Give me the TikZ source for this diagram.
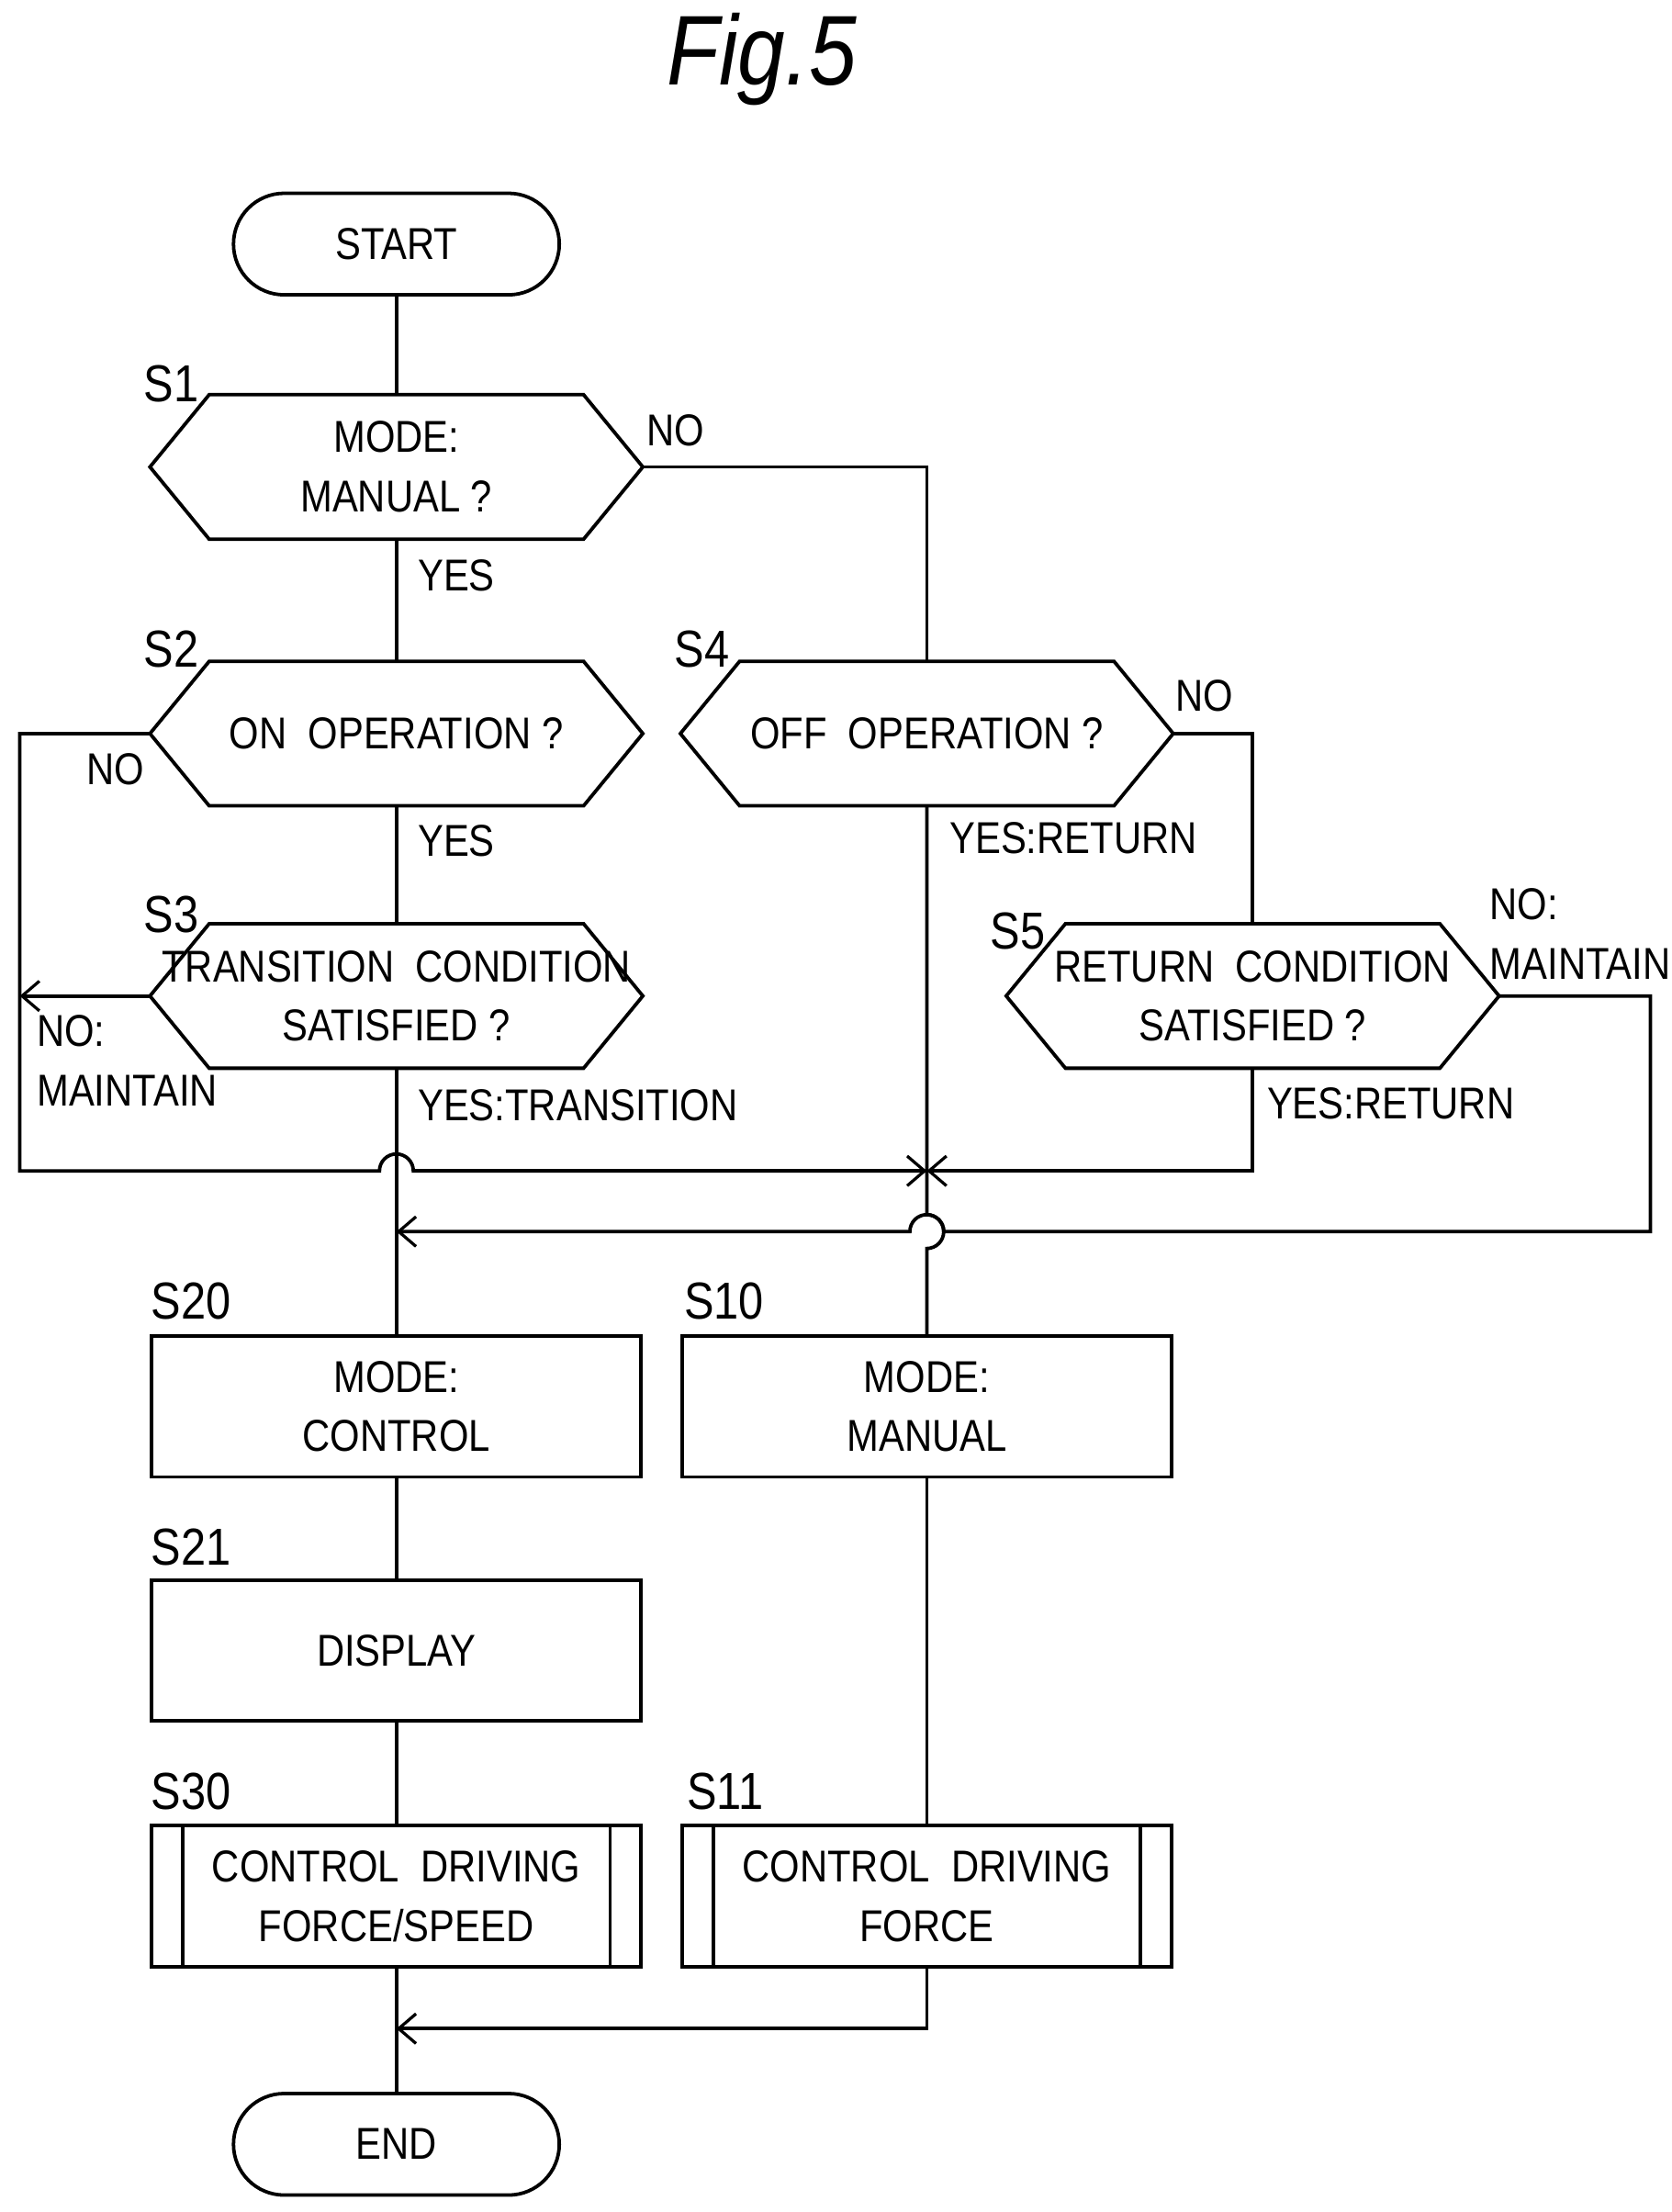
\documentclass[tikz,border=0pt]{standalone}
\usepackage{fontspec}
\setmainfont{Liberation Sans}[FakeStretch=0.86]
\usetikzlibrary{arrows.meta, positioning}

\begin{document}
\begin{tikzpicture}[
    x=0.02cm, y=-0.02cm,
    font=\fontsize{18}{24}\selectfont,
    line width=1.4pt,
    >={Straight Barb[length=7pt, width=12pt, line width=1.2pt]},
    every node/.style={align=center},
    term/.style={rectangle, draw, rounded corners=0.72cm, minimum width=4.62cm, minimum height=1.44cm},
    dec/.style={rectangle, minimum width=6.94cm, minimum height=2cm, inner sep=0pt,
        append after command={\pgfextra{\draw (\tikzlastnode.west)
            -- ([xshift=0.84cm]\tikzlastnode.north west) -- ([xshift=-0.84cm]\tikzlastnode.north east)
            -- (\tikzlastnode.east) -- ([xshift=-0.84cm]\tikzlastnode.south east)
            -- ([xshift=0.84cm]\tikzlastnode.south west) -- cycle;}}},
    proc/.style={rectangle, draw, minimum width=6.94cm, minimum height=2cm},
    sub/.style={proc, path picture={
        \draw ([xshift=0.44cm]path picture bounding box.north west) -- ([xshift=0.44cm]path picture bounding box.south west);
        \draw ([xshift=-0.44cm]path picture bounding box.north east) -- ([xshift=-0.44cm]path picture bounding box.south east);}},
    stepno/.style={font=\fontsize{21}{26}\selectfont, anchor=west},
    lbl/.style={anchor=west, inner sep=0pt, align=left}
]
\useasboundingbox (0,0) rectangle (1185,1568);

% Title
\node[font=\fontsize{40}{46}\selectfont\itshape] (title) at (540,42) {Fig.5};

% ----------------------
% Nodes
% ----------------------
\node[term] (start) at (281,173) {START};
\node[dec] (s1) at (281,331) {MODE:\\MANUAL ?};
\node[dec] (s2) at (281,520) {ON\ \ OPERATION ?};
\node[dec] (s4) at (657,520) {OFF\ \ OPERATION ?};
\node[dec] (s3) at (281,706) {TRANSITION\ \ CONDITION\\SATISFIED ?};
\node[dec] (s5) at (888,706) {RETURN\ \ CONDITION\\SATISFIED ?};
\node[proc] (s20) at (281,997) {MODE:\\CONTROL};
\node[proc] (s10) at (657,997) {MODE:\\MANUAL};
\node[proc] (s21) at (281,1170) {DISPLAY};
\node[sub] (s30) at (281,1344) {CONTROL\ \ DRIVING\\FORCE/SPEED};
\node[sub] (s11) at (657,1344) {CONTROL\ \ DRIVING\\FORCE};
\node[term] (end) at (281,1520) {END};

% step labels
\node[stepno] at (95,272) {S1};
\node[stepno] at (95,460) {S2};
\node[stepno] at (95,648) {S3};
\node[stepno] at (471,460) {S4};
\node[stepno] at (695,660) {S5};
\node[stepno] at (100,922) {S20};
\node[stepno] at (478,922) {S10};
\node[stepno] at (100,1097) {S21};
\node[stepno] at (100,1270) {S30};
\node[stepno] at (480,1270) {S11};

% junctions
\coordinate (j1) at (657,830);
\coordinate (j2) at (281,873);
\coordinate (j3) at (281,1438);

% ----------------------
% Arrows
% ----------------------
\draw (start) -- (s1);
\draw (s1) -- node[lbl, pos=0.3, right=8pt] {YES} (s2);
\draw (s1.east) -| (s4.north);
\node[lbl] at (457,305) {NO};
\draw (s2) -- node[lbl, pos=0.3, right=8pt] {YES} (s3);
\draw (s2.west) -- (14,520) -- (14,830) -- (269,830) arc (180:360:12) -- (j1);
\node[lbl] at (60,545) {NO};
\draw[->] (293,830) -- (j1);
\draw[->] (s3.west) -- (14,706);
\node[lbl] at (25,752) {NO:\\MAINTAIN};
\draw (s3) -- node[lbl, pos=0.14, right=8pt] {YES:TRANSITION} (s20);
\draw (s4.south) -- (657,861) arc (-90:90:12) -- (s10);
\node[lbl] at (672,594) {YES:RETURN};
\draw (s4.east) -| (s5.north);
\node[lbl] at (832,493) {NO};
\draw[->] (s5.south) |- (j1);
\node[lbl] at (897,782) {YES:RETURN};
\draw[->] (s5.east) -- (1170,706) -- (1170,873) -- (669,873) arc (0:-180:12) -- (j2);
\node[lbl] at (1055,662) {NO:\\MAINTAIN};
\draw (s10) -- (s11);
\draw (s20) -- (s21);
\draw (s21) -- (s30);
\draw (s30) -- (end);
\draw[->] (s11.south) |- (j3);

\end{tikzpicture}
\end{document}
